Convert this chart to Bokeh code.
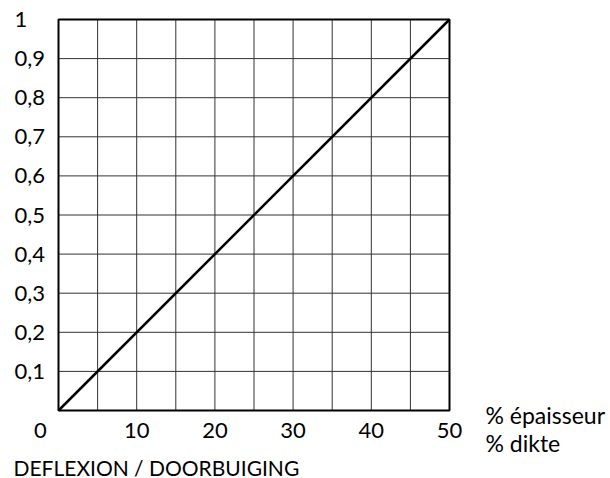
from bokeh.plotting import figure
from bokeh.models import Range1d, ColumnDataSource
from bokeh.core.properties import value
from bokeh.embed import file_html
from bokeh.resources import INLINE

# data
thickness_pct = [0, 50]
deflection = [0, 1]
x_ticks = [10, 20, 30, 40, 50]
x_tick_labels = ["10", "20", "30", "40", "50"]
y_ticks = [0.1, 0.2, 0.3, 0.4, 0.5, 0.6, 0.7, 0.8, 0.9, 1.0]
y_tick_labels = ["0,1", "0,2", "0,3", "0,4", "0,5", "0,6", "0,7", "0,8", "0,9", "1"]
x_grid = [5, 10, 15, 20, 25, 30, 35, 40, 45]
y_grid = [0.1, 0.2, 0.3, 0.4, 0.5, 0.6, 0.7, 0.8, 0.9]
x_min, x_max = 0, 50
y_min, y_max = 0, 1
origin_label = "0"
unit_lines = ["% épaisseur", "% dikte"]
title_text = "DEFLEXION / DOORBUIGING"

FONT = value("Lato")
FS = value("22px")

# pixel geometry of the plotting box inside a 610x478 canvas
W, H = 610, 478
left_px, right_px, top_px, bottom_px = 58, 449, 19, 410
sx = (right_px - left_px) / (x_max - x_min)
sy = (bottom_px - top_px) / (y_max - y_min)

p = figure(width=W, height=H, output_backend="svg", toolbar_location=None,
           x_range=Range1d(x_min - left_px / sx, x_max + (W - right_px) / sx),
           y_range=Range1d(y_min - (H - bottom_px) / sy, y_max + top_px / sy),
           min_border=0)
p.axis.visible = False
p.grid.visible = False
p.outline_line_color = None
p.background_fill_color = "white"
p.border_fill_color = "white"

# grid
p.segment(x0=x_grid, y0=[y_min] * len(x_grid), x1=x_grid, y1=[y_max] * len(x_grid),
          line_color="#333333", line_width=1)
p.segment(x0=[x_min] * len(y_grid), y0=y_grid, x1=[x_max] * len(y_grid), y1=y_grid,
          line_color="#333333", line_width=1)
# box
p.quad(left=[x_min], right=[x_max], bottom=[y_min], top=[y_max],
       fill_color=None, line_color="black", line_width=2)

# data line
src = ColumnDataSource(data=dict(x=thickness_pct, y=deflection))
p.line("x", "y", source=src, line_color="black", line_width=2.5)

# tick labels
y_lab_x = x_min - (left_px - 14) / sx
p.text(x=[y_lab_x] * len(y_ticks), y=y_ticks, text=y_tick_labels,
       text_font=FONT, text_font_size=FS, text_align="left", text_baseline="middle",
       text_color="black")
x_lab_y = y_min - 20 / sy
p.text(x=x_ticks, y=[x_lab_y] * len(x_ticks), text=x_tick_labels,
       text_font=FONT, text_font_size=FS, text_align="center", text_baseline="middle",
       text_color="black")
p.text(x=[x_min - 18 / sx], y=[x_lab_y], text=[origin_label],
       text_font=FONT, text_font_size=FS, text_align="center", text_baseline="middle",
       text_color="black")
# unit
unit_x = x_max + 36 / sx
p.text(x=[unit_x, unit_x], y=[y_min - 4 / sy, y_min - 32 / sy], text=unit_lines,
       text_font=FONT, text_font_size=value("23px"), text_align="left", text_baseline="middle",
       text_color="black")
# caption
p.text(x=[x_min - (left_px - 13) / sx], y=[y_min - 57 / sy], text=[title_text],
       text_font=FONT, text_font_size=value("21px"), text_align="left",
       text_baseline="middle", text_color="black")

open("out.html", "w").write(file_html(p, INLINE))
